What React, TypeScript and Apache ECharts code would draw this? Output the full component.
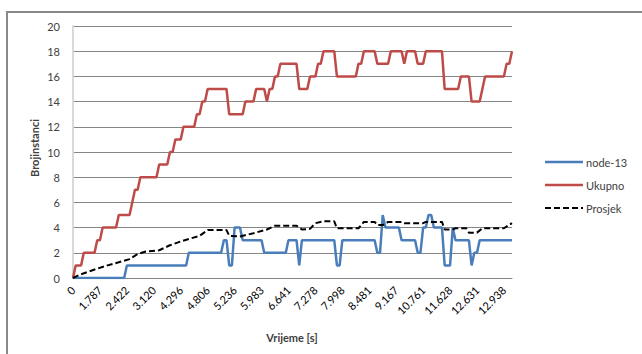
import React, { useEffect, useRef } from "react";
import * as echarts from "echarts";

// Time stamps [s] shown under every 10th sample
const tickLabels = [
  "0", "1.787", "2.422", "3.120", "4.296", "4.806", "5.236", "5.983", "6.641",
  "7.278", "7.998", "8.481", "9.167", "10.761", "11.628", "12.631", "12.938",
];
const sampleCount = 164;
const labelStep = 10;

// Instance counts as runs of [instances, number of samples]
const nodeRuns: [number, number][] = [
  [0, 20], [1, 23], [2, 13], [3, 2], [1, 2], [4, 3], [3, 8], [2, 9], [3, 4], [1, 1],
  [3, 13], [1, 2], [3, 13], [2, 2], [5, 1], [4, 6], [3, 6], [2, 2], [4, 2], [5, 2],
  [4, 4], [1, 3], [4, 1], [3, 6], [1, 1], [2, 2], [3, 13],
];
const totalRuns: [number, number][] = [
  [0, 1], [1, 3], [2, 5], [3, 2], [4, 6], [5, 5], [6, 1], [7, 2], [8, 7], [9, 4],
  [10, 2], [11, 3], [12, 5], [13, 2], [14, 2], [15, 8], [13, 6], [14, 4], [15, 4], [14, 1],
  [15, 2], [16, 2], [17, 7], [15, 4], [16, 3], [17, 2], [18, 5], [16, 8], [17, 2], [18, 5],
  [17, 5], [18, 5], [17, 1], [18, 4], [17, 3], [18, 7], [15, 6], [16, 4], [14, 4], [15, 1],
  [16, 8], [17, 2], [18, 1],
];
// Mean instances per node: [sample index, value]
const averagePoints: [number, number][] = [
  [0, 0], [3, 0.3], [7, 0.6], [12, 0.95], [17, 1.25], [21, 1.5], [24, 1.9], [27, 2.1],
  [32, 2.2], [36, 2.6], [40, 2.9], [43, 3.1], [47, 3.35], [50, 3.8], [57, 3.8], [58, 3.35],
  [62, 3.3], [67, 3.55], [72, 3.85], [75, 4.15], [83, 4.15], [85, 3.85], [88, 3.9], [90, 4.35],
  [93, 4.5], [97, 4.5], [98, 3.95], [106, 3.95], [108, 4.45], [112, 4.45], [113, 4.2], [115, 4.2],
  [117, 4.45], [122, 4.45], [123, 4.35], [130, 4.35], [131, 4.45], [137, 4.45], [138, 3.85], [141, 3.85],
  [142, 3.95], [146, 3.95], [147, 3.6], [150, 3.6], [152, 3.95], [160, 3.95], [163, 4.35],
];

const seriesNames = ["node-13", "Ukupno", "Prosjek"];
const seriesColors = ["#4a7ebb", "#be4b48", "#000000"];

const expandRuns = (runs: [number, number][]) => {
  const out: [number, number][] = [];
  let i = 0;
  for (const [v, n] of runs) {
    for (let k = 0; k < n; k++) out.push([i++, v]);
  }
  return out;
};

const FONT = "Lato, 'Liberation Sans', sans-serif";
const TEXT = "#404040";
const GRID = "#868686";
const DASH = [6, 3];

export default function App() {
  const ref = useRef<HTMLDivElement>(null);

  useEffect(() => {
    if (!ref.current) return;
    const chart = echarts.init(ref.current, undefined, { renderer: "svg" });

    // Legend keys drawn as plain line samples with labels
    const legendItems: any[] = [];
    seriesNames.forEach((name, i) => {
      const y = 162 + i * 23;
      legendItems.push({
        type: "line",
        silent: true,
        shape: { x1: 545, y1: y, x2: 583, y2: y },
        style: {
          stroke: seriesColors[i],
          lineWidth: i === 2 ? 2 : 2.5,
          lineDash: i === 2 ? DASH : null,
        },
      });
      legendItems.push({
        type: "text",
        x: 586,
        y,
        style: {
          text: name,
          fontFamily: FONT,
          fontSize: 11,
          fill: TEXT,
          align: "left",
          verticalAlign: "middle",
        },
      });
    });

    chart.setOption({
      animation: false,
      backgroundColor: "#fff",
      grid: { left: 73, top: 26, right: 130, bottom: 76 },
      xAxis: {
        type: "value",
        min: 0,
        max: sampleCount - 1,
        interval: labelStep,
        axisLine: { show: true, lineStyle: { color: GRID, width: 1 } },
        axisTick: { show: false },
        splitLine: { show: false },
        axisLabel: {
          rotate: 45,
          margin: 10,
          showMaxLabel: false,
          fontFamily: FONT,
          fontSize: 11,
          color: "#000",
          formatter: (v: number) => (v % labelStep === 0 ? tickLabels[v / labelStep] ?? "" : ""),
        },
      },
      yAxis: {
        type: "value",
        min: 0,
        max: 20,
        interval: 2,
        axisLine: { show: true, lineStyle: { color: "#d9d9d9", width: 2 } },
        axisTick: { show: false },
        splitLine: { show: true, lineStyle: { color: GRID, width: 1 } },
        axisLabel: { margin: 13, fontFamily: FONT, fontSize: 11, color: TEXT },
      },
      series: [
        {
          name: seriesNames[0],
          type: "line",
          symbol: "none",
          data: expandRuns(nodeRuns),
          lineStyle: { color: seriesColors[0], width: 2.5 },
        },
        {
          name: seriesNames[1],
          type: "line",
          symbol: "none",
          data: expandRuns(totalRuns),
          lineStyle: { color: seriesColors[1], width: 2.5 },
        },
        {
          name: seriesNames[2],
          type: "line",
          symbol: "none",
          data: averagePoints,
          lineStyle: { color: seriesColors[2], width: 2, type: DASH },
        },
      ],
      graphic: [
        {
          type: "rect",
          silent: true,
          shape: { x: 7, y: 12, width: 700, height: 400 },
          style: { fill: "none", stroke: "#898989", lineWidth: 2 },
        },
        {
          type: "text",
          x: 34,
          y: 148,
          rotation: Math.PI / 2,
          style: {
            text: "Brojinstanci",
            fontFamily: FONT,
            fontSize: 11,
            fontWeight: "bold",
            fill: TEXT,
            align: "center",
            verticalAlign: "middle",
          },
        },
        {
          type: "text",
          x: 292,
          y: 337,
          style: {
            text: "Vrijeme [s]",
            fontFamily: FONT,
            fontSize: 11,
            fontWeight: "bold",
            fill: TEXT,
            align: "center",
            verticalAlign: "middle",
          },
        },
        ...legendItems,
      ],
    });
    return () => chart.dispose();
  }, []);

  return (
    <div
      ref={ref}
      style={{ position: "fixed", left: 0, top: 0, width: 642, height: 354 }}
    />
  );
}
